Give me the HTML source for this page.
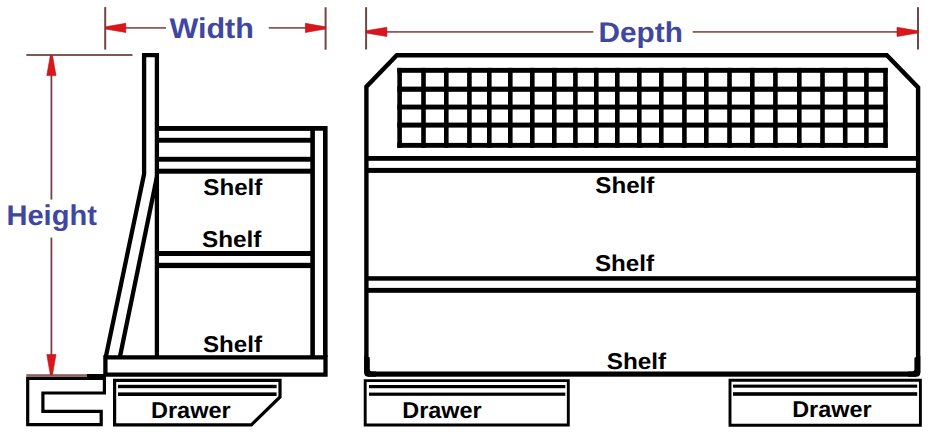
<!DOCTYPE html>
<html><head><meta charset="utf-8"><style>
html,body{margin:0;padding:0;background:#fff;width:935px;height:444px;overflow:hidden}
svg{display:block}
</style></head><body>
<svg width="935" height="444" viewBox="0 0 935 444">
<rect width="935" height="444" fill="#fff"/>
<rect x="104.20" y="7.10" width="2.00" height="42.50" fill="#704646"/>
<rect x="324.60" y="7.30" width="2.00" height="42.40" fill="#704646"/>
<rect x="105.00" y="27.00" width="61.00" height="1.80" fill="#935a5a"/>
<rect x="268.80" y="27.00" width="56.80" height="1.80" fill="#935a5a"/>
<path d="M105.6,26.799999999999997 L125.8,23.299999999999997 L125.8,32.5 L105.6,29.0 Z" fill="#dc151c" stroke="#b01818" stroke-width="0.6"/>
<path d="M325.4,26.799999999999997 L305.4,23.299999999999997 L305.4,32.5 L325.4,29.0 Z" fill="#dc151c" stroke="#b01818" stroke-width="0.6"/>
<rect x="365.10" y="7.20" width="2.00" height="42.30" fill="#704646"/>
<rect x="917.00" y="7.20" width="2.00" height="42.30" fill="#704646"/>
<rect x="366.00" y="31.00" width="227.30" height="1.80" fill="#935a5a"/>
<rect x="692.70" y="31.00" width="225.30" height="1.80" fill="#935a5a"/>
<path d="M366.0,30.799999999999997 L386.9,27.299999999999997 L386.9,36.5 L366.0,33.0 Z" fill="#dc151c" stroke="#b01818" stroke-width="0.6"/>
<path d="M917.8,30.799999999999997 L897,27.299999999999997 L897,36.5 L917.8,33.0 Z" fill="#dc151c" stroke="#b01818" stroke-width="0.6"/>
<rect x="26.30" y="54.10" width="106.20" height="1.80" fill="#704646"/>
<rect x="26.30" y="374.20" width="60.70" height="2.40" fill="#935a5a"/>
<rect x="50.50" y="55.00" width="1.80" height="144.60" fill="#704646"/>
<rect x="50.50" y="237.60" width="1.80" height="137.40" fill="#704646"/>
<path d="M50.3,55.6 L46.8,75.6 L56.0,75.6 L52.5,55.6 Z" fill="#dc151c" stroke="#b01818" stroke-width="0.6"/>
<path d="M50.3,374.6 L46.8,354.5 L56.0,354.5 L52.5,374.6 Z" fill="#dc151c" stroke="#b01818" stroke-width="0.6"/>
<path d="M105.8,357 L144.1,174 L144.1,55.2 L156.9,55.2 L156.9,357" stroke="#000" stroke-width="4.3" fill="none" stroke-linejoin="miter" stroke-miterlimit="10"/>
<path d="M156.9,177 L119.9,357" stroke="#000" stroke-width="4.3" fill="none" />
<path d="M105.4,357.3 L325.5,357.3 L325.5,374.6 L105.4,374.6 Z" stroke="#000" stroke-width="4.3" fill="none" />
<path d="M312.6,357 L312.6,128.4 L325.3,128.4 L325.3,357" stroke="#000" stroke-width="4.6" fill="none" />
<rect x="157.00" y="126.00" width="156.00" height="4.90" fill="#000"/>
<rect x="157.00" y="137.80" width="156.00" height="4.90" fill="#000"/>
<rect x="157.00" y="156.80" width="156.00" height="4.90" fill="#000"/>
<rect x="157.00" y="168.70" width="156.00" height="5.00" fill="#000"/>
<rect x="157.00" y="251.00" width="156.00" height="5.00" fill="#000"/>
<rect x="157.00" y="262.80" width="156.00" height="5.30" fill="#000"/>
<path d="M104.4,378.3 L27.7,378.3 L27.7,424.6 L101.2,424.6 L101.2,411.4 L42.9,411.4 L42.9,393 L104.4,393 Z" stroke="#000" stroke-width="3.2" fill="none" />
<rect x="87.00" y="374.00" width="19.00" height="3.50" fill="#000"/>
<path d="M114.6,380.3 L280,380.3 L280,397 L251.4,424.8 L114.6,424.8 Z" stroke="#000" stroke-width="3.2" fill="none" />
<rect x="118.00" y="384.80" width="158.60" height="3.40" fill="#000"/>
<rect x="118.00" y="392.40" width="158.60" height="3.60" fill="#000"/>
<path d="M366.4,373 L366.4,86.6 L396.8,55.3 L886.8,55.3 L918.1,87.5 L918.1,373" stroke="#000" stroke-width="4.4" fill="none" stroke-linejoin="miter"/>
<rect x="368.00" y="371.50" width="548.00" height="5.20" fill="#000"/>
<path d="M364.2,355.4 Q366.5,355.6 369.8,357.5 L369.8,369.5 Q369.8,371.5 371.8,371.5 L376,371.5 L376,376.7 L368.2,376.7 Q364.2,376.7 364.2,372.7 Z" stroke="none" stroke-width="0" fill="#000" />
<path d="M920.3,355.8 Q917.5,356.1 914.4,357.7 L914.4,369.5 Q914.4,371.5 912.4,371.5 L908,371.5 L908,376.7 L916.3,376.7 Q920.3,376.7 920.3,372.7 Z" stroke="none" stroke-width="0" fill="#000" />
<rect x="397.30" y="67.90" width="4.60" height="79.90" fill="#000"/>
<rect x="421.20" y="67.90" width="4.60" height="79.90" fill="#000"/>
<rect x="444.00" y="67.90" width="4.60" height="79.90" fill="#000"/>
<rect x="467.10" y="67.90" width="4.60" height="79.90" fill="#000"/>
<rect x="487.00" y="67.90" width="4.60" height="79.90" fill="#000"/>
<rect x="508.00" y="67.90" width="4.60" height="79.90" fill="#000"/>
<rect x="530.00" y="67.90" width="4.60" height="79.90" fill="#000"/>
<rect x="552.00" y="67.90" width="4.60" height="79.90" fill="#000"/>
<rect x="573.10" y="67.90" width="4.60" height="79.90" fill="#000"/>
<rect x="594.00" y="67.90" width="4.60" height="79.90" fill="#000"/>
<rect x="615.00" y="67.90" width="4.60" height="79.90" fill="#000"/>
<rect x="637.00" y="67.90" width="4.60" height="79.90" fill="#000"/>
<rect x="659.00" y="67.90" width="4.60" height="79.90" fill="#000"/>
<rect x="682.10" y="67.90" width="4.60" height="79.90" fill="#000"/>
<rect x="704.00" y="67.90" width="4.60" height="79.90" fill="#000"/>
<rect x="727.20" y="67.90" width="4.60" height="79.90" fill="#000"/>
<rect x="750.00" y="67.90" width="4.60" height="79.90" fill="#000"/>
<rect x="773.10" y="67.90" width="4.60" height="79.90" fill="#000"/>
<rect x="797.00" y="67.90" width="4.60" height="79.90" fill="#000"/>
<rect x="820.20" y="67.90" width="4.60" height="79.90" fill="#000"/>
<rect x="842.90" y="67.90" width="4.60" height="79.90" fill="#000"/>
<rect x="864.10" y="67.90" width="4.60" height="79.90" fill="#000"/>
<rect x="883.20" y="67.90" width="4.60" height="79.90" fill="#000"/>
<rect x="397.30" y="67.90" width="490.30" height="4.90" fill="#000"/>
<rect x="397.30" y="86.60" width="490.30" height="5.20" fill="#000"/>
<rect x="397.30" y="104.60" width="490.30" height="4.90" fill="#000"/>
<rect x="397.30" y="122.60" width="490.30" height="5.00" fill="#000"/>
<rect x="397.30" y="142.90" width="490.30" height="4.90" fill="#000"/>
<rect x="368.00" y="156.00" width="548.00" height="4.80" fill="#000"/>
<rect x="368.00" y="167.90" width="548.00" height="5.00" fill="#000"/>
<rect x="368.00" y="276.20" width="548.00" height="4.50" fill="#000"/>
<rect x="368.00" y="287.90" width="548.00" height="4.90" fill="#000"/>
<path d="M365.2,380.6 L568.3,380.6 L568.3,425 L365.2,425 Z" stroke="#000" stroke-width="2.9" fill="none" />
<rect x="369.00" y="385.00" width="196.30" height="3.20" fill="#000"/>
<rect x="369.00" y="392.60" width="196.30" height="3.20" fill="#000"/>
<path d="M730,380.3 L920.4,380.3 L920.4,425.3 L730,425.3 Z" stroke="#000" stroke-width="2.9" fill="none" />
<rect x="733.00" y="384.60" width="184.20" height="3.10" fill="#000"/>
<rect x="733.00" y="392.20" width="184.20" height="3.60" fill="#000"/>
<text x="169.42" y="37.60" font-family="Liberation Sans, sans-serif" text-rendering="geometricPrecision" font-weight="bold" font-size="28.5" fill="#3f47a0" textLength="84.5" lengthAdjust="spacingAndGlyphs">Width</text>
<text x="6.46" y="224.70" font-family="Liberation Sans, sans-serif" text-rendering="geometricPrecision" font-weight="bold" font-size="28.5" fill="#3f47a0" textLength="90.4" lengthAdjust="spacingAndGlyphs">Height</text>
<text x="598.53" y="41.70" font-family="Liberation Sans, sans-serif" text-rendering="geometricPrecision" font-weight="bold" font-size="28.5" fill="#3f47a0" textLength="84.3" lengthAdjust="spacingAndGlyphs">Depth</text>
<text x="203.30" y="194.50" font-family="Liberation Sans, sans-serif" text-rendering="geometricPrecision" font-weight="bold" font-size="22.8" fill="#000" textLength="59.0" lengthAdjust="spacingAndGlyphs">Shelf</text>
<text x="202.09" y="246.70" font-family="Liberation Sans, sans-serif" text-rendering="geometricPrecision" font-weight="bold" font-size="22.8" fill="#000" textLength="59.3" lengthAdjust="spacingAndGlyphs">Shelf</text>
<text x="203.00" y="351.50" font-family="Liberation Sans, sans-serif" text-rendering="geometricPrecision" font-weight="bold" font-size="22.8" fill="#000" textLength="59.0" lengthAdjust="spacingAndGlyphs">Shelf</text>
<text x="595.30" y="193.40" font-family="Liberation Sans, sans-serif" text-rendering="geometricPrecision" font-weight="bold" font-size="22.8" fill="#000" textLength="59.0" lengthAdjust="spacingAndGlyphs">Shelf</text>
<text x="594.99" y="271.30" font-family="Liberation Sans, sans-serif" text-rendering="geometricPrecision" font-weight="bold" font-size="22.8" fill="#000" textLength="59.1" lengthAdjust="spacingAndGlyphs">Shelf</text>
<text x="606.89" y="368.60" font-family="Liberation Sans, sans-serif" text-rendering="geometricPrecision" font-weight="bold" font-size="22.8" fill="#000" textLength="59.3" lengthAdjust="spacingAndGlyphs">Shelf</text>
<text x="150.99" y="417.50" font-family="Liberation Sans, sans-serif" text-rendering="geometricPrecision" font-weight="bold" font-size="22.8" fill="#000" textLength="79.6" lengthAdjust="spacingAndGlyphs">Drawer</text>
<text x="402.29" y="417.60" font-family="Liberation Sans, sans-serif" text-rendering="geometricPrecision" font-weight="bold" font-size="22.8" fill="#000" textLength="79.4" lengthAdjust="spacingAndGlyphs">Drawer</text>
<text x="792.19" y="417.20" font-family="Liberation Sans, sans-serif" text-rendering="geometricPrecision" font-weight="bold" font-size="22.8" fill="#000" textLength="79.4" lengthAdjust="spacingAndGlyphs">Drawer</text>
</svg>
</body></html>
